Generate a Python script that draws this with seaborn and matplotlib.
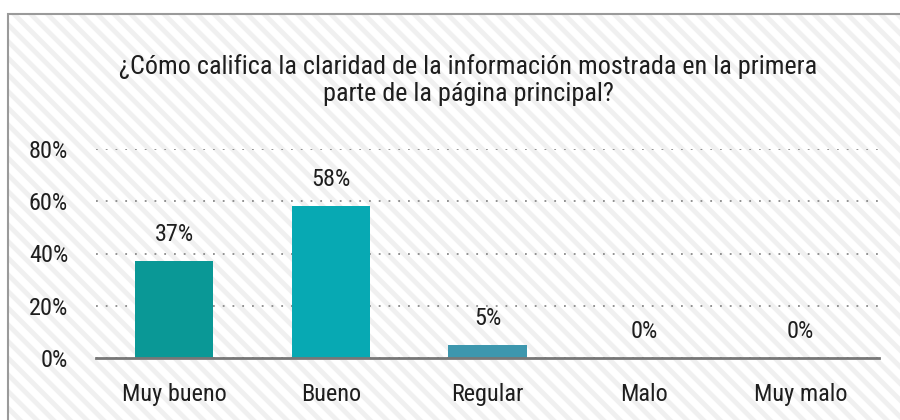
import numpy as np
import seaborn as sns
import matplotlib.pyplot as plt
from matplotlib.patches import Rectangle
from matplotlib.ticker import PercentFormatter

categorias = ["Muy bueno", "Bueno", "Regular", "Malo", "Muy malo"]
valores = [0.37, 0.58, 0.05, 0.0, 0.0]
etiquetas = ["37%", "58%", "5%", "0%", "0%"]
colores = ["#0a9896", "#07a9b3", "#3d97ae", "#3d97ae", "#3d97ae"]
titulo = "¿Cómo califica la claridad de la información mostrada en la primera\nparte de la página principal?"

sns.set_theme(style="white")
plt.rcParams['font.family'] = ['Roboto Condensed', 'DejaVu Sans']
plt.rcParams['hatch.linewidth'] = 3.5

fig = plt.figure(figsize=(9, 4.2), dpi=100)
fig.patch.set_facecolor("white")

# fondo rayado
bg = Rectangle((8 / 900, -0.1), 1.2, 1 - 14 / 420 + 0.1, transform=fig.transFigure,
               facecolor="white", edgecolor="#f0f0f0", linewidth=0, hatch="\\\\",
               zorder=-10)
fig.patches.append(bg)
# marco
frame = Rectangle((8 / 900, -0.1), 1.2, 1 - 14 / 420 + 0.1, transform=fig.transFigure,
                  facecolor="none", edgecolor="#9a9a9a", linewidth=1.5, zorder=-9)
fig.patches.append(frame)

ax = fig.add_axes([96 / 900, 1 - 358 / 420, (879 - 96) / 900, (358 - 149) / 420])
ax.patch.set_alpha(0)

sns.barplot(x=categorias, y=valores, hue=categorias, palette=colores, legend=False,
            width=0.5, saturation=1, edgecolor="none", linewidth=0, ax=ax, zorder=3)

ax.set_ylim(0, 0.8)
ax.set_xlim(-0.5, len(categorias) - 0.5)
ax.set_yticks([0, 0.2, 0.4, 0.6, 0.8])
ax.yaxis.set_major_formatter(PercentFormatter(1.0, decimals=0))
ax.yaxis.grid(True, color="#8a8a8a", linestyle=(0, (1, 4.4)), linewidth=1.3)
ax.set_axisbelow(True)

for s in ["top", "right", "left"]:
    ax.spines[s].set_visible(False)
ax.spines["bottom"].set_color("#777777")
ax.spines["bottom"].set_linewidth(2)
ax.spines["bottom"].set_zorder(4)

ax.tick_params(axis="both", length=0, labelsize=17.5, colors="#1e1e1e")
ax.tick_params(axis="y", pad=20)
ax.tick_params(axis="x", pad=18)
ax.set_xlabel("")
ax.set_ylabel("")

for cont, lab in zip(ax.containers, etiquetas):
    ax.bar_label(cont, labels=[lab], padding=11, fontsize=17.5, color="#1e1e1e")

fig.text(0.52, 1 - 80 / 420, titulo, ha="center", va="center", fontsize=18.8,
         color="#1e1e1e", linespacing=1.2)

fig.savefig("out.png", dpi=100)
